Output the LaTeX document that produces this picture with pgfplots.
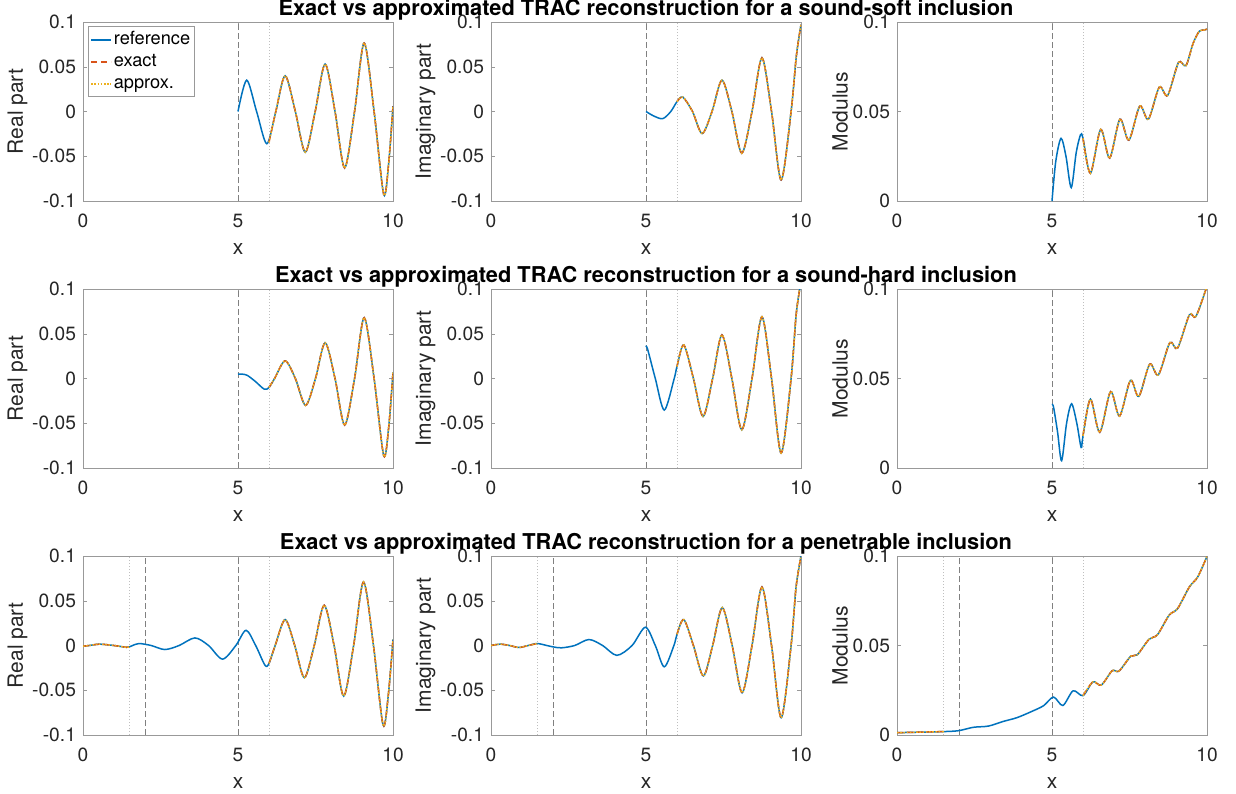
\documentclass[border=0pt]{standalone}
\usepackage{fontspec}
\setmainfont{TeX Gyre Heros}
\usepackage{pgfplots}
\pgfplotsset{compat=1.18}
\usepackage{pgfplotstable}

\definecolor{mblue}{rgb}{0,0.447,0.741}
\definecolor{morange}{rgb}{0.85,0.325,0.098}
\definecolor{myellow}{rgb}{0.929,0.694,0.125}

\pgfplotsset{
  trac/.style={width=155pt,height=89.5pt,scale only axis,anchor=north west,
    xmin=0,xmax=10,xtick={0,5,10},xticklabels={0,5,10},
    axis line style={black!40},tick style={black!40},major tick length=2pt,
    tick label style={font=\fontsize{9.6}{11}\selectfont,text=black!85},
    xticklabel style={yshift=-3pt},
    label style={font=\fontsize{10.5}{12}\selectfont,text=black!85},
    xlabel={x},xlabel style={yshift=-1pt},ylabel style={yshift=-4.5pt},
    unbounded coords=jump,
    title style={font=\bfseries\fontsize{10.9}{12}\selectfont,anchor=base,yshift=-2.5pt},
  },
  ri/.style={ymin=-0.1,ymax=0.1,ytick={-0.1,-0.05,0,0.05,0.1},yticklabels={-0.1,-0.05,0,0.05,0.1}},
  md/.style={ymin=0,ymax=0.1,ytick={0,0.05,0.1},yticklabels={0,0.05,0.1}},
  ref/.style={mblue,line width=0.75pt,smooth},
  exa/.style={morange,line width=0.75pt,dash pattern=on 3pt off 2pt,smooth},
  apx/.style={myellow,line width=0.75pt,dash pattern=on 0.8pt off 0.8pt,smooth},
  v1/.style={black!50,line width=0.4pt,dash pattern=on 3pt off 1.5pt,forget plot},
  v2/.style={black!25,line width=0.4pt,dash pattern=on 0.5pt off 1pt,forget plot},
}

% sound-soft
\pgfplotstableread{
x y
5.00 0.000
5.28 0.035
5.60 0.000
5.93 -0.036
6.22 0.000
6.52 0.040
6.85 0.000
7.17 -0.0455
7.49 0.000
7.81 0.053
8.13 0.000
8.44 -0.063
8.76 0.000
9.07 0.0765
9.39 0.000
9.70 -0.0925
9.86 -0.058
10.00 0.006
}\refA
\pgfplotstableread{
x y
6.00 -0.0345
6.22 0.000
6.52 0.040
6.85 0.000
7.17 -0.0455
7.49 0.000
7.81 0.053
8.13 0.000
8.44 -0.063
8.76 0.000
9.07 0.0765
9.39 0.000
9.70 -0.0925
9.86 -0.058
10.00 0.006
}\exA
\pgfplotstableread{
x y
5.00 0.000
5.25 -0.005
5.54 -0.008
5.80 0.000
6.00 0.011
6.19 0.016
6.50 0.000
6.81 -0.0246
7.13 0.000
7.45 0.035
7.77 0.000
8.09 -0.0466
8.42 0.000
8.74 0.060
9.05 0.000
9.36 -0.0765
9.68 0.000
9.85 0.062
10.00 0.097
}\refB
\pgfplotstableread{
x y
6.00 0.011
6.19 0.016
6.50 0.000
6.81 -0.0246
7.13 0.000
7.45 0.035
7.77 0.000
8.09 -0.0466
8.42 0.000
8.74 0.060
9.05 0.000
9.36 -0.0765
9.68 0.000
9.85 0.062
10.00 0.097
}\exB
\pgfplotstableread{
x y
5.00 0.000
5.12 0.022
5.29 0.035
5.45 0.025
5.62 0.0075
5.78 0.027
5.92 0.037
6.00 0.035
6.24 0.0155
6.57 0.040
6.86 0.024
7.19 0.0457
7.48 0.034
7.83 0.053
8.11 0.0457
8.46 0.0636
8.73 0.059
9.08 0.0774
9.32 0.0756
9.55 0.088
9.75 0.0948
9.90 0.0955
10.00 0.096
}\refC
\pgfplotstableread{
x y
6.00 0.035
6.24 0.0155
6.57 0.040
6.86 0.024
7.19 0.0457
7.48 0.034
7.83 0.053
8.11 0.0457
8.46 0.0636
8.73 0.059
9.08 0.0774
9.32 0.0756
9.55 0.088
9.75 0.0948
9.90 0.0955
10.00 0.096
}\exC

% sound-hard
\pgfplotstableread{
x y
5.00 0.0048
5.15 0.0048
5.30 0.0035
5.55 -0.003
5.85 -0.012
6.00 -0.010
6.18 0.000
6.52 0.0197
6.85 0.000
7.18 -0.030
7.50 0.000
7.81 0.040
8.13 0.000
8.44 -0.052
8.76 0.000
9.07 0.068
9.39 0.000
9.70 -0.086
9.86 -0.055
10.00 0.0067
}\refD
\pgfplotstableread{
x y
6.00 -0.010
6.18 0.000
6.52 0.0197
6.85 0.000
7.18 -0.030
7.50 0.000
7.81 0.040
8.13 0.000
8.44 -0.052
8.76 0.000
9.07 0.068
9.39 0.000
9.70 -0.086
9.86 -0.055
10.00 0.0067
}\exD
\pgfplotstableread{
x y
5.00 0.035
5.05 0.033
5.30 0.000
5.59 -0.0353
5.91 0.000
6.00 0.0134
6.22 0.0375
6.53 0.000
6.84 -0.0424
7.15 0.000
7.45 0.0487
7.77 0.000
8.09 -0.0573
8.42 0.000
8.74 0.069
9.05 0.000
9.36 -0.0833
9.68 0.000
9.84 0.070
9.96 0.100
10.00 0.102
}\refE
\pgfplotstableread{
x y
6.00 0.0134
6.22 0.0375
6.53 0.000
6.84 -0.0424
7.15 0.000
7.45 0.0487
7.77 0.000
8.09 -0.0573
8.42 0.000
8.74 0.069
9.05 0.000
9.36 -0.0833
9.68 0.000
9.84 0.070
9.96 0.100
10.00 0.102
}\exE
\pgfplotstableread{
x y
5.00 0.0353
5.05 0.034
5.18 0.020
5.31 0.0041
5.47 0.025
5.63 0.0359
5.80 0.025
5.94 0.0115
6.00 0.018
6.24 0.0385
6.54 0.020
6.89 0.0427
7.18 0.029
7.53 0.049
7.80 0.040
8.15 0.058
8.43 0.052
8.80 0.070
9.05 0.067
9.43 0.0855
9.64 0.0846
9.97 0.100
10.00 0.101
}\refF
\pgfplotstableread{
x y
6.00 0.018
6.24 0.0385
6.54 0.020
6.89 0.0427
7.18 0.029
7.53 0.049
7.80 0.040
8.15 0.058
8.43 0.052
8.80 0.070
9.05 0.067
9.43 0.0855
9.64 0.0846
9.97 0.100
10.00 0.101
}\exF

% penetrable
\pgfplotstableread{
x y
0.00 -0.0008
0.20 0.000
0.54 0.0015
1.00 0.000
1.40 -0.002
1.50 -0.0015
1.60 0.000
1.81 0.0022
2.20 0.000
2.64 -0.0045
3.10 0.000
3.61 0.0085
4.05 0.000
4.50 -0.0152
4.93 0.000
5.26 0.017
5.57 0.000
5.87 -0.022
6.00 -0.020
6.20 0.000
6.52 0.029
6.83 0.000
7.14 -0.036
7.46 0.000
7.78 0.045
8.10 0.000
8.41 -0.0565
8.73 0.000
9.05 0.071
9.37 0.000
9.68 -0.0888
9.85 -0.055
10.00 0.0067
}\refG
\pgfplotstableread{
x y
0.00 -0.0008
0.20 0.000
0.54 0.0015
1.00 0.000
1.40 -0.002
1.50 -0.0015
nan nan
6.00 -0.020
6.20 0.000
6.52 0.029
6.83 0.000
7.14 -0.036
7.46 0.000
7.78 0.045
8.10 0.000
8.41 -0.0565
8.73 0.000
9.05 0.071
9.37 0.000
9.68 -0.0888
9.85 -0.055
10.00 0.0067
}\exG
\pgfplotstableread{
x y
0.00 0.000
0.30 0.0015
0.60 0.000
0.90 -0.0022
1.20 0.000
1.49 0.0022
1.80 0.000
2.00 -0.0015
2.27 -0.0026
2.70 0.000
3.16 0.0067
3.60 0.000
4.06 -0.011
4.55 0.000
4.98 0.0204
5.30 0.000
5.59 -0.0238
5.90 0.000
6.00 0.0125
6.22 0.029
6.53 0.000
6.85 -0.034
7.15 0.000
7.46 0.0424
7.78 0.000
8.10 -0.0528
8.42 0.000
8.74 0.0654
9.05 0.000
9.36 -0.0807
9.68 0.000
9.84 0.065
10.00 0.100
}\refH
\pgfplotstableread{
x y
0.00 0.000
0.30 0.0015
0.60 0.000
0.90 -0.0022
1.20 0.000
1.49 0.0022
1.50 0.0022
nan nan
6.00 0.0125
6.22 0.029
6.53 0.000
6.85 -0.034
7.15 0.000
7.46 0.0424
7.78 0.000
8.10 -0.0528
8.42 0.000
8.74 0.0654
9.05 0.000
9.36 -0.0807
9.68 0.000
9.84 0.065
10.00 0.100
}\exH
\pgfplotstableread{
x y
0.00 0.0013
0.75 0.0016
1.49 0.0019
1.98 0.0024
2.46 0.0043
2.95 0.0050
3.43 0.0076
3.87 0.0097
4.35 0.0132
4.73 0.0164
5.05 0.0212
5.35 0.0165
5.68 0.0247
6.00 0.0220
6.32 0.0297
6.59 0.0279
6.94 0.0359
7.16 0.0357
7.54 0.0440
7.75 0.0448
8.13 0.0535
8.40 0.0560
8.78 0.0670
9.05 0.0706
9.43 0.0827
9.70 0.0883
10.00 0.0998
}\refI
\pgfplotstableread{
x y
0.00 0.0013
0.75 0.0016
1.49 0.0019
1.50 0.0019
nan nan
6.00 0.0220
6.32 0.0297
6.59 0.0279
6.94 0.0359
7.16 0.0357
7.54 0.0440
7.75 0.0448
8.13 0.0535
8.40 0.0560
8.78 0.0670
9.05 0.0706
9.43 0.0827
9.70 0.0883
10.00 0.0998
}\exI

\begin{document}
\begin{tikzpicture}
% row 1: sound-soft
\begin{axis}[trac,ri,at={(41.5pt,-11pt)},ylabel={Real part},
  legend style={at={(0.016,0.975)},anchor=north west,draw=black!40,
    font=\fontsize{9.1}{10}\selectfont,inner sep=1pt,row sep=0pt,
    nodes={inner xsep=1pt,inner ysep=1pt,text height=7pt,text depth=2pt}},
  legend cell align=left,
  legend image code/.code={\draw[#1] (0pt,0pt) -- (10pt,0pt);}]
\addplot[v1] coordinates {(5,-0.1) (5,0.1)};
\addplot[v2] coordinates {(6,-0.1) (6,0.1)};
\addplot[ref] table {\refA};
\addplot[exa] table {\exA};
\addplot[apx] table {\exA};
\legend{reference,exact,approx.}
\end{axis}
\begin{axis}[trac,ri,at={(245.5pt,-11pt)},ylabel={Imaginary part},
  title={Exact vs approximated TRAC reconstruction for a sound-soft inclusion}]
\addplot[v1] coordinates {(5,-0.1) (5,0.1)};
\addplot[v2] coordinates {(6,-0.1) (6,0.1)};
\addplot[ref] table {\refB};
\addplot[exa] table {\exB};
\addplot[apx] table {\exB};
\end{axis}
\begin{axis}[trac,md,at={(448.5pt,-11pt)},ylabel={Modulus}]
\addplot[v1] coordinates {(5,0) (5,0.1)};
\addplot[v2] coordinates {(6,0) (6,0.1)};
\addplot[ref] table {\refC};
\addplot[exa] table {\exC};
\addplot[apx] table {\exC};
\end{axis}
% row 2: sound-hard
\begin{axis}[trac,ri,at={(41.5pt,-144.5pt)},ylabel={Real part}]
\addplot[v1] coordinates {(5,-0.1) (5,0.1)};
\addplot[v2] coordinates {(6,-0.1) (6,0.1)};
\addplot[ref] table {\refD};
\addplot[exa] table {\exD};
\addplot[apx] table {\exD};
\end{axis}
\begin{axis}[trac,ri,at={(245.5pt,-144.5pt)},ylabel={Imaginary part},
  title={Exact vs approximated TRAC reconstruction for a sound-hard inclusion}]
\addplot[v1] coordinates {(5,-0.1) (5,0.1)};
\addplot[v2] coordinates {(6,-0.1) (6,0.1)};
\addplot[ref] table {\refE};
\addplot[exa] table {\exE};
\addplot[apx] table {\exE};
\end{axis}
\begin{axis}[trac,md,at={(448.5pt,-144.5pt)},ylabel={Modulus}]
\addplot[v1] coordinates {(5,0) (5,0.1)};
\addplot[v2] coordinates {(6,0) (6,0.1)};
\addplot[ref] table {\refF};
\addplot[exa] table {\exF};
\addplot[apx] table {\exF};
\end{axis}
% row 3: penetrable
\begin{axis}[trac,ri,at={(41.5pt,-278pt)},ylabel={Real part}]
\addplot[v2] coordinates {(1.5,-0.1) (1.5,0.1)};
\addplot[v1] coordinates {(2,-0.1) (2,0.1)};
\addplot[v1] coordinates {(5,-0.1) (5,0.1)};
\addplot[v2] coordinates {(6,-0.1) (6,0.1)};
\addplot[ref] table {\refG};
\addplot[exa] table {\exG};
\addplot[apx] table {\exG};
\end{axis}
\begin{axis}[trac,ri,at={(245.5pt,-278pt)},ylabel={Imaginary part},
  title={Exact vs approximated TRAC reconstruction for a penetrable inclusion}]
\addplot[v2] coordinates {(1.5,-0.1) (1.5,0.1)};
\addplot[v1] coordinates {(2,-0.1) (2,0.1)};
\addplot[v1] coordinates {(5,-0.1) (5,0.1)};
\addplot[v2] coordinates {(6,-0.1) (6,0.1)};
\addplot[ref] table {\refH};
\addplot[exa] table {\exH};
\addplot[apx] table {\exH};
\end{axis}
\begin{axis}[trac,md,at={(448.5pt,-278pt)},ylabel={Modulus}]
\addplot[v2] coordinates {(1.5,0) (1.5,0.1)};
\addplot[v1] coordinates {(2,0) (2,0.1)};
\addplot[v1] coordinates {(5,0) (5,0.1)};
\addplot[v2] coordinates {(6,0) (6,0.1)};
\addplot[ref] table {\refI};
\addplot[exa] table {\exI};
\addplot[apx] table {\exI};
\end{axis}
\pgfresetboundingbox
\path (0,0) rectangle (618pt,-396.5pt);
\end{tikzpicture}
\end{document}
